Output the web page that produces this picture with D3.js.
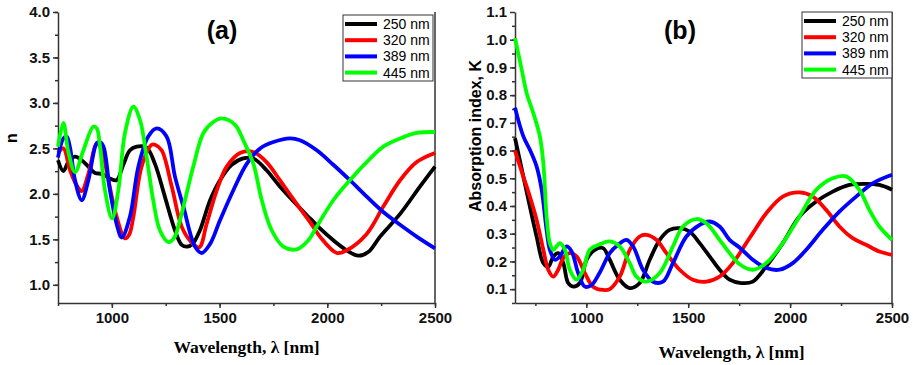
<!DOCTYPE html>
<html>
<head>
<meta charset="utf-8">
<script src="https://cdn.jsdelivr.net/npm/d3@7"></script>
<style>
  body { margin: 0; background: #fff; }
  svg { display: block; }
  .tick text { font-family: Arial, "Liberation Sans", sans-serif; font-weight: bold; font-size: 15px; fill: #111; }
  .domain, .tick line { stroke: #333; stroke-width: 1.5px; }
</style>
</head>
<body>
<svg width="913" height="365"></svg>
<script>
// sample thicknesses (legend)
const series = ['250 nm', '320 nm', '389 nm', '445 nm'];
const colors = ['#000000', '#ff0000', '#0000ff', '#00ff00'];

// (a) refractive index n vs wavelength [nm]
const n250 = [[750,2.37],[775,2.25],[798,2.35],[829,2.41],[860,2.37],[891,2.30],[922,2.23],[953,2.22],[991,2.17],[1022,2.15],[1053,2.32],[1084,2.48],[1115,2.52],[1161,2.51],[1200,2.33],[1246,1.97],[1293,1.60],[1324,1.44],[1350,1.42],[1375,1.45],[1409,1.60],[1456,1.93],[1502,2.15],[1556,2.32],[1610,2.39],[1657,2.39],[1718,2.26],[1780,2.08],[1858,1.88],[1920,1.73],[1966,1.62],[2028,1.49],[2090,1.38],[2144,1.32],[2190,1.36],[2245,1.53],[2338,1.78],[2430,2.08],[2500,2.30]];
const n320 = [[750,2.45],[775,2.50],[806,2.26],[840,2.08],[860,2.03],[891,2.22],[930,2.55],[953,2.48],[984,2.15],[1022,1.75],[1061,1.51],[1080,1.55],[1100,1.75],[1138,2.30],[1185,2.54],[1200,2.54],[1231,2.48],[1278,2.08],[1324,1.64],[1365,1.48],[1405,1.41],[1440,1.67],[1487,2.04],[1533,2.30],[1595,2.45],[1657,2.46],[1718,2.35],[1780,2.15],[1858,1.89],[1920,1.69],[1966,1.53],[2044,1.35],[2090,1.38],[2183,1.56],[2260,1.86],[2338,2.15],[2415,2.35],[2500,2.45]];
const n389 = [[750,2.40],[775,2.61],[790,2.63],[805,2.52],[829,2.15],[860,1.93],[891,2.15],[930,2.56],[945,2.57],[961,2.52],[991,2.04],[1022,1.67],[1046,1.52],[1084,1.75],[1123,2.30],[1169,2.63],[1208,2.72],[1254,2.63],[1293,2.19],[1332,1.86],[1386,1.42],[1417,1.35],[1456,1.45],[1502,1.71],[1564,2.04],[1626,2.33],[1688,2.50],[1750,2.57],[1827,2.61],[1873,2.59],[1951,2.48],[2028,2.32],[2105,2.15],[2183,1.97],[2260,1.80],[2338,1.66],[2415,1.53],[2500,1.40]];
const n445 = [[750,2.52],[775,2.78],[798,2.46],[829,2.24],[868,2.48],[914,2.74],[930,2.72],[945,2.52],[968,2.04],[1001,1.73],[1030,2.04],[1061,2.67],[1100,2.96],[1131,2.81],[1161,2.41],[1192,1.93],[1223,1.60],[1262,1.47],[1290,1.52],[1316,1.71],[1378,2.30],[1425,2.67],[1471,2.79],[1510,2.83],[1572,2.76],[1610,2.59],[1657,2.33],[1696,1.93],[1742,1.60],[1796,1.42],[1858,1.39],[1912,1.49],[1951,1.64],[2028,1.93],[2105,2.15],[2183,2.35],[2260,2.52],[2338,2.61],[2415,2.67],[2500,2.68]];

// (b) absorption index K vs wavelength [nm]
const k250 = [[650,0.645],[691,0.506],[723,0.398],[756,0.29],[789,0.194],[813,0.18],[838,0.218],[862,0.23],[887,0.194],[911,0.122],[936,0.109],[968,0.122],[1001,0.206],[1042,0.242],[1082,0.248],[1115,0.206],[1164,0.134],[1213,0.104],[1262,0.122],[1311,0.206],[1360,0.278],[1409,0.314],[1458,0.32],[1507,0.308],[1556,0.266],[1605,0.218],[1654,0.17],[1703,0.134],[1760,0.122],[1817,0.127],[1883,0.182],[1964,0.266],[2046,0.362],[2128,0.416],[2209,0.452],[2291,0.476],[2373,0.48],[2438,0.476],[2500,0.459]];
const k320 = [[650,0.60],[691,0.506],[723,0.434],[756,0.35],[789,0.242],[813,0.17],[838,0.145],[862,0.17],[887,0.212],[919,0.23],[952,0.218],[993,0.158],[1033,0.109],[1082,0.097],[1115,0.10],[1164,0.145],[1213,0.242],[1262,0.29],[1295,0.296],[1344,0.278],[1393,0.23],[1458,0.17],[1523,0.134],[1589,0.127],[1654,0.145],[1719,0.194],[1784,0.265],[1817,0.302],[1883,0.374],[1964,0.434],[2046,0.449],[2111,0.434],[2177,0.386],[2242,0.326],[2307,0.284],[2373,0.26],[2438,0.236],[2500,0.224]];
const k389 = [[650,0.755],[691,0.651],[723,0.603],[756,0.543],[781,0.458],[805,0.314],[821,0.242],[846,0.206],[870,0.218],[903,0.254],[928,0.236],[960,0.158],[993,0.109],[1026,0.115],[1066,0.16],[1115,0.23],[1156,0.26],[1197,0.278],[1230,0.254],[1278,0.17],[1327,0.127],[1376,0.127],[1425,0.194],[1491,0.29],[1556,0.332],[1605,0.344],[1654,0.326],[1703,0.278],[1752,0.25],[1817,0.206],[1883,0.176],[1948,0.17],[2013,0.194],[2079,0.242],[2160,0.314],[2242,0.38],[2324,0.434],[2405,0.482],[2500,0.513]];
const k445 = [[650,1.006],[683,0.892],[707,0.808],[740,0.735],[772,0.651],[789,0.555],[805,0.362],[821,0.266],[838,0.242],[870,0.266],[895,0.242],[919,0.17],[952,0.134],[985,0.17],[1017,0.242],[1066,0.262],[1115,0.272],[1164,0.254],[1213,0.194],[1246,0.145],[1295,0.127],[1360,0.158],[1425,0.254],[1474,0.326],[1540,0.353],[1589,0.338],[1654,0.278],[1703,0.23],[1752,0.19],[1817,0.17],[1883,0.194],[1964,0.266],[2046,0.362],[2128,0.458],[2209,0.50],[2275,0.507],[2340,0.458],[2389,0.386],[2438,0.326],[2500,0.278]];

const xTicks = [1000, 1500, 2000, 2500];
const nTicks = [1.0, 1.5, 2.0, 2.5, 3.0, 3.5, 4.0];
const kTicks = [0.1, 0.2, 0.3, 0.4, 0.5, 0.6, 0.7, 0.8, 0.9, 1.0, 1.1];

const svg = d3.select('svg');

function drawPanel(opt) {
    const x = d3.scaleLinear().domain(opt.xDomain).range([opt.left, opt.right]);
    const y = d3.scaleLinear().domain(opt.yDomain).range([opt.bottom, opt.top]);
    const g = svg.append('g');

    // minor ticks
    g.append('g')
        .attr('transform', `translate(0,${opt.bottom})`)
        .call(d3.axisBottom(x).tickValues(d3.range(opt.xMinorStart, 2501, 250)).tickSize(3).tickFormat(''))
        .call(s => s.select('.domain').remove());
    g.append('g')
        .attr('transform', `translate(${opt.left},0)`)
        .call(d3.axisLeft(y).tickValues(opt.yMinor).tickSize(3).tickFormat(''))
        .call(s => s.select('.domain').remove());

    g.append('g')
        .attr('transform', `translate(0,${opt.bottom})`)
        .call(d3.axisBottom(x).tickValues(xTicks).tickSize(5).tickPadding(4).tickSizeOuter(0).tickFormat(d3.format('d')));
    g.append('g')
        .attr('transform', `translate(${opt.left},0)`)
        .call(d3.axisLeft(y).tickValues(opt.yTicks).tickSize(5).tickPadding(3).tickSizeOuter(0).tickFormat(d3.format('.1f')));

    // right border
    g.append('line')
        .attr('x1', opt.right).attr('x2', opt.right)
        .attr('y1', opt.top).attr('y2', opt.bottom)
        .attr('stroke', '#333').attr('stroke-width', 1.5);

    const line = d3.line()
        .x(d => x(d[0]))
        .y(d => y(d[1]))
        .curve(d3.curveCatmullRom.alpha(0.5));

    opt.data.forEach((d, i) => {
        g.append('path')
            .datum(d)
            .attr('fill', 'none')
            .attr('stroke', colors[i])
            .attr('stroke-width', 3.8)
            .attr('stroke-linejoin', 'round')
            .attr('d', line);
    });

    // panel label
    g.append('text')
        .attr('x', opt.labelX).attr('y', 39)
        .attr('text-anchor', 'middle')
        .style('font-family', 'Arial, "Liberation Sans", sans-serif')
        .style('font-weight', 'bold').style('font-size', '25px')
        .text(opt.label);

    // legend
    const lg = g.append('g').attr('transform', `translate(${opt.legX},${opt.legY})`);
    lg.append('rect')
        .attr('width', 90).attr('height', 66)
        .attr('fill', '#fff').attr('stroke', '#333').attr('stroke-width', 1);
    series.forEach((s, i) => {
        const yy = 9 + i * 16.2;
        lg.append('line')
            .attr('x1', 2).attr('x2', 34).attr('y1', yy).attr('y2', yy)
            .attr('stroke', colors[i]).attr('stroke-width', 4);
        lg.append('text')
            .attr('x', 40).attr('y', yy + 5)
            .style('font-family', 'Arial, "Liberation Sans", sans-serif')
            .style('font-size', '14px')
            .text(s);
    });

    // axis titles
    g.append('text')
        .attr('transform', `translate(${opt.yTitleX},${opt.yTitleY}) rotate(-90)`)
        .attr('text-anchor', 'middle')
        .style('font-family', 'Arial, "Liberation Sans", sans-serif')
        .style('font-weight', 'bold').style('font-size', '16px')
        .text(opt.yTitle);
    g.append('text')
        .attr('x', (opt.left + opt.right) / 2 + opt.xTitleShift).attr('y', opt.xTitleY)
        .attr('text-anchor', 'middle')
        .style('font-family', '"Liberation Serif", "Times New Roman", serif')
        .style('font-weight', 'bold').style('font-size', '17.5px')
        .text('Wavelength, \u03bb [nm]');
}

drawPanel({
    xDomain: [750, 2500], yDomain: [0.8, 4.0],
    left: 58, right: 435, top: 12, bottom: 303,
    xMinorStart: 750, yTicks: nTicks,
    yMinor: d3.range(0.75, 4.01, 0.25).filter(v => v >= 0.8),
    data: [n250, n320, n389, n445],
    label: '(a)', labelX: 222,
    legX: 343, legY: 15,
    yTitle: 'n', yTitleX: 17, yTitleY: 138,
    xTitleY: 353, xTitleShift: 0
});

drawPanel({
    xDomain: [650, 2500], yDomain: [0.05, 1.1],
    left: 515, right: 892, top: 12, bottom: 303,
    xMinorStart: 750, yTicks: kTicks,
    yMinor: d3.range(1, 22).map(v => v * 0.05 + 0.0001).filter(v => v >= 0.05 && v <= 1.1),
    data: [k250, k320, k389, k445],
    label: '(b)', labelX: 680,
    legX: 802, legY: 12,
    yTitle: 'Absorption index, K', yTitleX: 481, yTitleY: 136,
    xTitleY: 358, xTitleShift: 28
});
</script>
</body>
</html>
